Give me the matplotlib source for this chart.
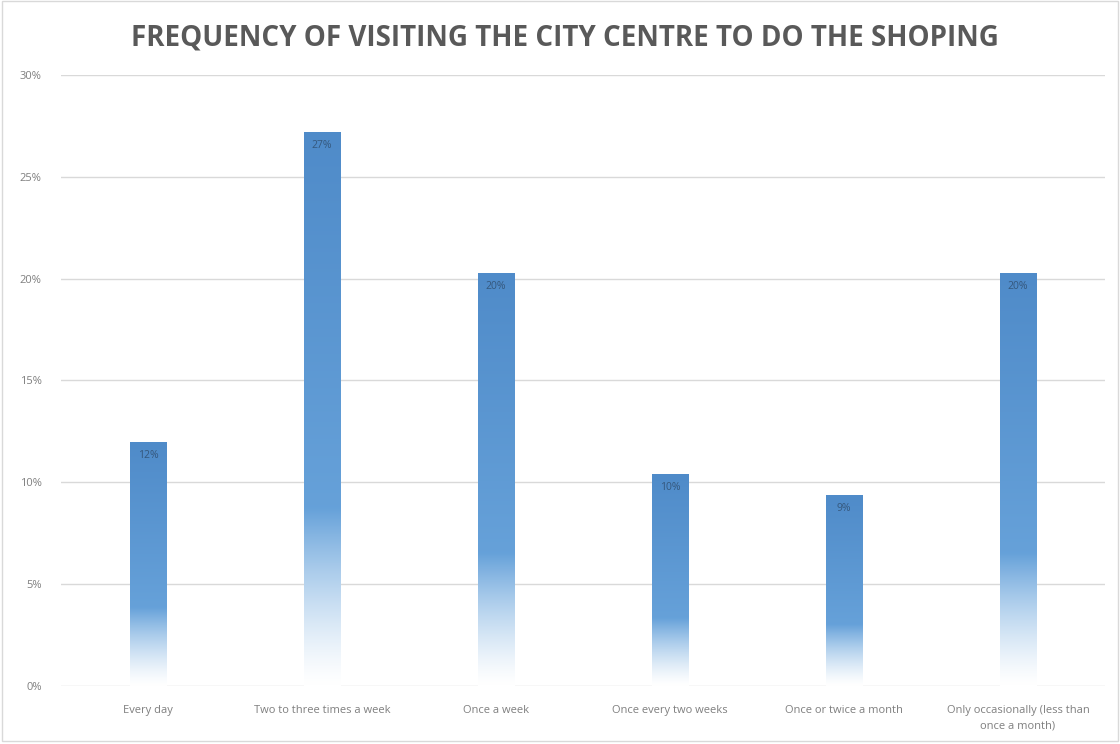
import numpy as np
import matplotlib.pyplot as plt
from matplotlib.colors import to_rgb
from matplotlib.patches import Rectangle

categories = ["Every day", "Two to three times a week", "Once a week",
              "Once every two weeks", "Once or twice a month",
              "Only occasionally (less than\nonce a month)"]
shares = [0.120, 0.272, 0.203, 0.104, 0.094, 0.203]
bar_labels = ["12%", "27%", "20%", "10%", "9%", "20%"]
y_ticks = [0, 0.05, 0.10, 0.15, 0.20, 0.25, 0.30]
y_tick_labels = ["0%", "5%", "10%", "15%", "20%", "25%", "30%"]

plt.rcParams['font.family'] = ['Open Sans', 'DejaVu Sans']

fig = plt.figure(figsize=(11.2, 7.44), dpi=100)
ax = fig.add_axes([61 / 1120, 1 - 686 / 744, (1105 - 61) / 1120, (686 - 75) / 744])

x = np.arange(len(categories))
bars = ax.bar(x, shares, width=0.21, facecolor='none', edgecolor='none', zorder=3)

# vertical gradient: white at the base, blue from ~30% of the bar up
n = 256
t = np.linspace(0, 1, n)
c_low = np.array(to_rgb('#6aa5dc'))
c_top = np.array(to_rgb('#4f8bc9'))
grad = np.zeros((n, 1, 4))
for i, tt in enumerate(t):
    a = np.clip(tt / 0.32, 0, 1) ** 1.3
    mix = np.clip((tt - 0.2) / 0.8, 0, 1)
    col = c_low * (1 - mix) + c_top * mix
    grad[i, 0, :3] = col * a + np.ones(3) * (1 - a)
    grad[i, 0, 3] = 1.0

for rect, lab in zip(bars.patches, bar_labels):
    x0, w, h = rect.get_x(), rect.get_width(), rect.get_height()
    im = ax.imshow(grad, extent=[x0, x0 + w, 0, h], origin='lower',
                   aspect='auto', zorder=3, interpolation='bilinear')
    im.set_clip_path(rect)
    ax.text(x0 + w / 2, h - 0.004, lab, ha='center', va='top',
            fontsize=7.5, color='#35587d', zorder=4)

ax.set_xlim(-0.5, len(categories) - 0.5)
ax.set_ylim(0, 0.30)
ax.set_yticks(y_ticks)
ax.set_yticklabels(y_tick_labels)
ax.set_xticks(x)
ax.set_xticklabels(categories, linespacing=1.5)
ax.tick_params(axis='both', length=0, labelsize=8, labelcolor='#7f7f7f')
ax.tick_params(axis='x', pad=14)
ax.tick_params(axis='y', pad=14)
ax.yaxis.grid(True, color='#d9d9d9', linewidth=1)
ax.set_axisbelow(True)
for s in ax.spines.values():
    s.set_visible(False)

fig.text(565 / 1120, 1 - 38 / 744, "FREQUENCY OF VISITING THE CITY CENTRE TO DO THE SHOPING",
         ha='center', va='center', fontsize=20, fontweight='bold', color='#595959')

fig.patches.append(Rectangle((0.002, 0.004), 0.996, 0.994, transform=fig.transFigure,
                             fill=False, edgecolor='#d9d9d9', linewidth=1))

fig.savefig('out.png', dpi=100)
